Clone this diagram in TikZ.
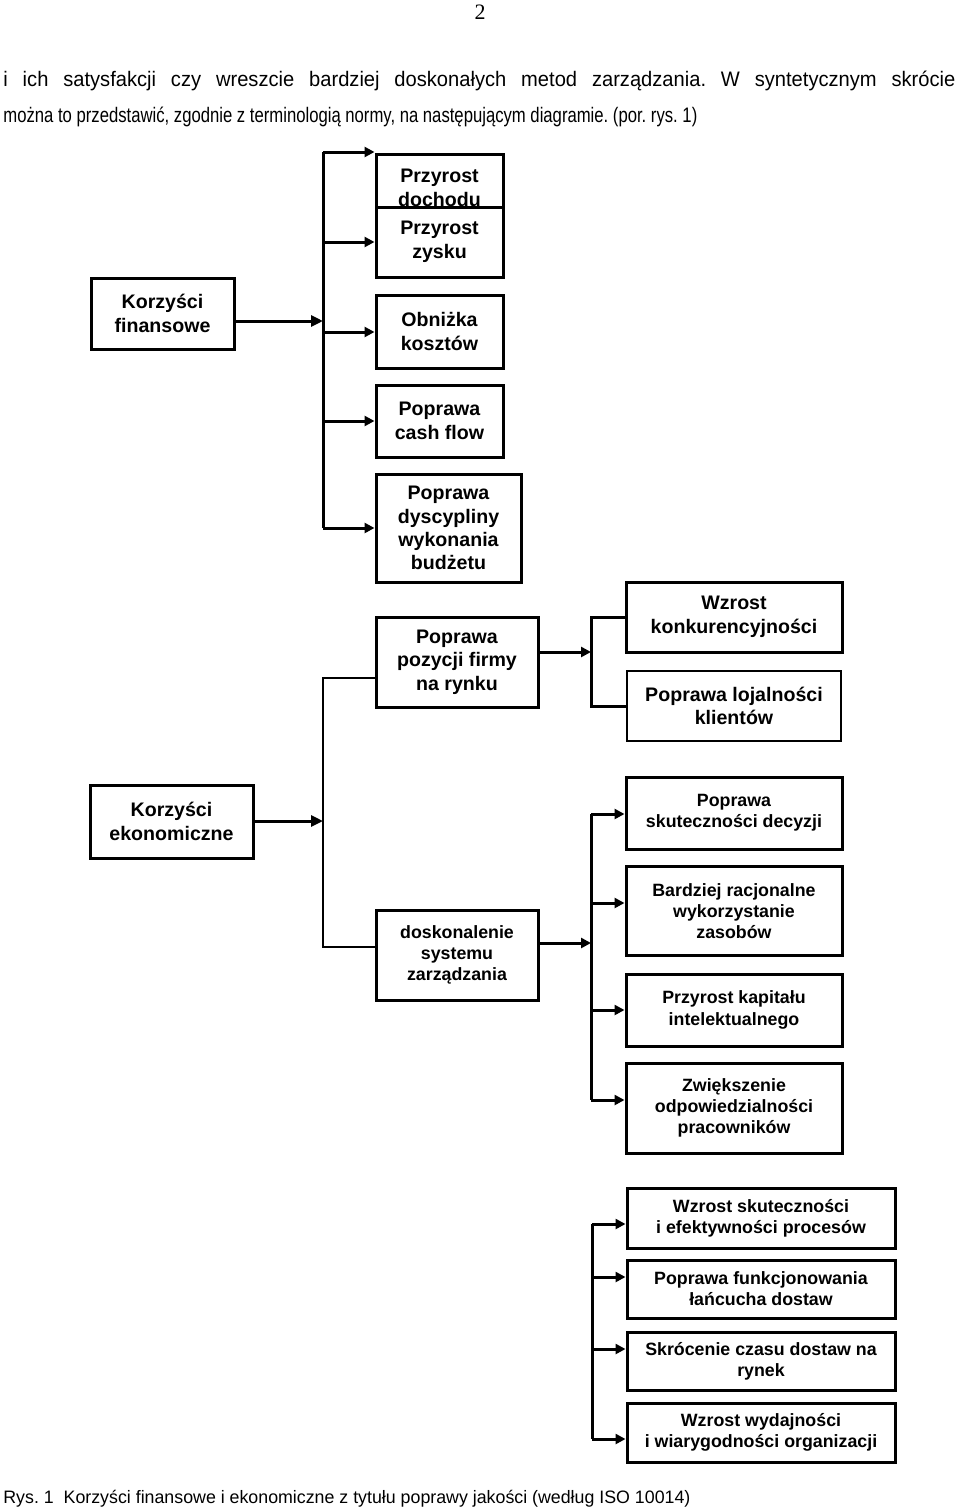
\documentclass[tikz,border=0pt]{standalone}
\usepackage{fontspec}
\setmainfont{Liberation Sans}
\newfontfamily\pagenumfont{Liberation Serif}
\usetikzlibrary{arrows.meta}
\frenchspacing
\newlength\lwone
\newcommand\lineone{i ich satysfakcji czy wreszcie bardziej doskonałych metod zarządzania. W syntetycznym skrócie}
\newcommand\linetwo{można to przedstawić, zgodnie z terminologią normy, na następującym diagramie. (por. rys. 1)}
\begin{document}
\settowidth\lwone{\fontsize{10.5}{12}\selectfont\lineone}%
\begin{tikzpicture}[x=0.5pt,y=-0.5pt,
  box/.style={draw, line width=1.5pt, align=center, inner sep=0pt, fill=white,
    font=\bfseries\fontsize{9.8}{12}\selectfont},
  sbox/.style={box, font=\bfseries\fontsize{8.9}{10.6}\selectfont},
  txt/.style={inner sep=0pt, align=center, font=\bfseries\fontsize{9.8}{12}\selectfont},
  body/.style={inner sep=0pt, anchor=base west},
  thk/.style={line width=1.5pt, line join=miter},
  thn/.style={line width=0.8pt},
  arr/.style={-{Triangle[length=5pt,width=5pt]}},
  barr/.style={-{Triangle[length=6pt,width=5.5pt]}}
]
\useasboundingbox (0,0) rectangle (960,1509);

% header and running text
\node[inner sep=0pt, anchor=base, font=\pagenumfont\fontsize{11}{13}\selectfont] (pg) at (480,20) {2};
\node[body] (l1) at (3,87) {\resizebox{476pt}{\height}{\fontsize{10.5}{12}\selectfont\makebox[\dimexpr\lwone*112/100\relax][s]{\lineone}}};
\node[body] (l2) at (3,123) {\resizebox{347pt}{\height}{\fontsize{10.5}{12}\selectfont\linetwo}};
\node[body] (cap) at (3,1503) {\resizebox{343.5pt}{\height}{\fontsize{9}{11}\selectfont Rys. 1\ \ Korzyści finansowe i ekonomiczne z tytułu poprawy jakości (według ISO 10014)}};

% left boxes
\node[box, minimum width=71.5pt, minimum height=35.5pt] (kf) at (162.5,313.5) {Korzyści\\finansowe};
\node[box, minimum width=81.5pt, minimum height=36.5pt] (ke) at (171.5,821.5) {Korzyści\\ekonomiczne};

% top column
\node[box, minimum width=63.5pt, minimum height=26.5pt] (pd) at (439.5,180.5) {};
\node[txt] (pdt) at (439.5,188) {Przyrost\\dochodu};
\node[box, minimum width=63.5pt, minimum height=35pt] (pz) at (439.5,242) {Przyrost\\zysku};
\node[box, minimum width=63.5pt, minimum height=36.5pt] (ok) at (439.5,331.5) {Obniżka\\kosztów};
\node[box, minimum width=63.5pt, minimum height=36pt] (pcf) at (439.5,421) {Poprawa\\cash flow};
\node[box, minimum width=72.5pt, minimum height=54pt, font=\bfseries\fontsize{9.8}{11.6}\selectfont] (pdw) at (448.5,528) {Poprawa\\dyscypliny\\wykonania\\budżetu};
\node[box, minimum width=81pt, minimum height=45pt, font=\bfseries\fontsize{9.8}{11.8}\selectfont] (ppf) at (457,662) {Poprawa\\pozycji firmy\\na rynku};

% right of ppf
\node[box, minimum width=108pt, minimum height=35pt] (wk) at (734,617) {Wzrost\\konkurencyjności};
\node[box, line width=0.8pt, minimum width=107pt, minimum height=35pt, font=\bfseries\fontsize{9.8}{11.6}\selectfont] (pl) at (734,706) {Poprawa lojalności\\klientów};

% doskonalenie and its group
\node[sbox, minimum width=81pt, minimum height=45pt] (dsz) at (457,955) {doskonalenie\\systemu\\zarządzania};
\node[sbox, minimum width=108pt, minimum height=36pt] (psd) at (734,813) {Poprawa\\skuteczności decyzji};
\node[sbox, minimum width=108pt, minimum height=44.5pt] (brw) at (734,911) {Bardziej racjonalne\\wykorzystanie\\zasobów};
\node[sbox, minimum width=108pt, minimum height=36pt] (pki) at (734,1010) {Przyrost kapitału\\intelektualnego};
\node[sbox, minimum width=108pt, minimum height=45pt] (zop) at (734,1108) {Zwiększenie\\odpowiedzialności\\pracowników};

% bottom group
\node[sbox, minimum width=134pt, minimum height=30pt] (wsp) at (761,1218) {Wzrost skuteczności\\i efektywności procesów};
\node[sbox, minimum width=134pt, minimum height=29pt] (pfl) at (761,1289) {Poprawa funkcjonowania\\łańcucha dostaw};
\node[sbox, minimum width=134pt, minimum height=29pt] (scd) at (761,1361) {Skrócenie czasu dostaw na\\rynek};
\node[sbox, minimum width=134pt, minimum height=29.5pt] (wwo) at (761,1432.5) {Wzrost wydajności\\i wiarygodności organizacji};

% ---- connectors: top trunk
\coordinate (j1) at (323,321);
\coordinate (b1) at (323,152);
\coordinate (b2) at (323,242);
\coordinate (b3) at (323,332);
\coordinate (b4) at (323,421);
\coordinate (b5) at (323,528);
\draw[thk] (b1) -- (b5);
\draw[thk,barr] (kf.east |- j1) -- (j1);
\draw[thk,arr] (b1) -- (pd.west |- b1);
\draw[thk,arr] (b2) -- (pz.west |- b2);
\draw[thk,arr] (b3) -- (ok.west |- b3);
\draw[thk,arr] (b4) -- (pcf.west |- b4);
\draw[thk,arr] (b5) -- (pdw.west |- b5);

% thin link ppf - dsz with ekonomiczne arrow
\coordinate (m1) at (323,678);
\coordinate (m2) at (323,947);
\coordinate (j2) at (323,821);
\draw[thn] (ppf.west |- m1) -- (m1) -- (m2) -- (dsz.west |- m2);
\draw[thk,barr] (ke.east |- j2) -- (j2);

% ppf to bracket
\coordinate (r0) at (591,652);
\coordinate (r1) at (591,617);
\coordinate (r2) at (591,706);
\draw[thk,arr] (ppf.east |- r0) -- (r0);
\draw[thk] (wk.west |- r1) -- (r1) -- (r2) -- (pl.west |- r2);

% dsz group
\coordinate (s0) at (591,943);
\coordinate (s1) at (591,814);
\coordinate (s2) at (591,903);
\coordinate (s3) at (591,1010);
\coordinate (s4) at (591,1100);
\draw[thk] (s1) -- (s4);
\draw[thk,arr] (dsz.east |- s0) -- (s0);
\draw[thk,arr] (s1) -- (psd.west |- s1);
\draw[thk,arr] (s2) -- (brw.west |- s2);
\draw[thk,arr] (s3) -- (pki.west |- s3);
\draw[thk,arr] (s4) -- (zop.west |- s4);

% bottom group
\coordinate (u1) at (592,1224);
\coordinate (u2) at (592,1277);
\coordinate (u3) at (592,1349);
\coordinate (u4) at (592,1439);
\draw[thk] (u1) -- (u4);
\draw[thk,arr] (u1) -- (wsp.west |- u1);
\draw[thk,arr] (u2) -- (pfl.west |- u2);
\draw[thk,arr] (u3) -- (scd.west |- u3);
\draw[thk,arr] (u4) -- (wwo.west |- u4);
\end{tikzpicture}
\end{document}
